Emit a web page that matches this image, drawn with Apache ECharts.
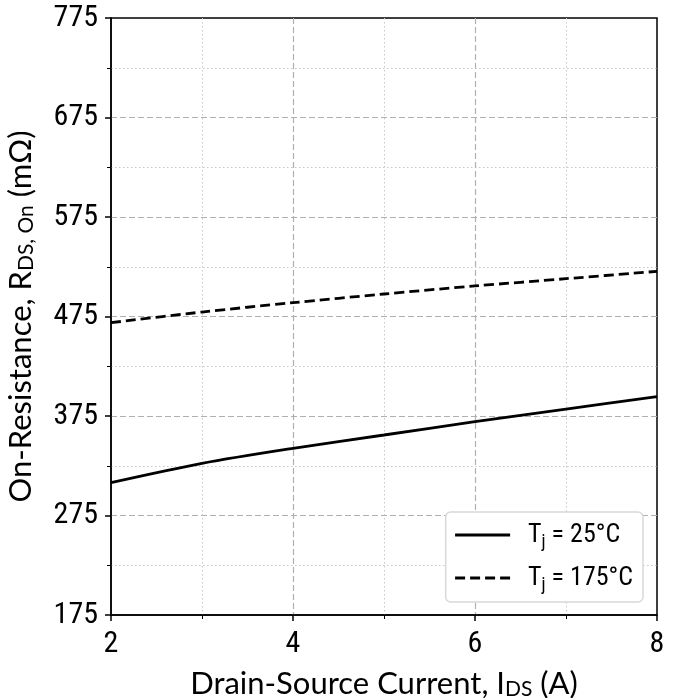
<!DOCTYPE html>
<html><head><meta charset="utf-8">
<script src="https://cdn.jsdelivr.net/npm/echarts@6/dist/echarts.min.js"></script>
<style>html,body{margin:0;padding:0;background:#fff}#c{width:677px;height:698px}</style>
</head><body><div id="c"></div>
<script>
const current = [2, 3, 4, 5, 6, 7, 8];
const r25 = [308, 327.4, 342.5, 355.9, 369.3, 382, 394.4];
const r175 = [468.8, 479.5, 488.9, 497.6, 505.7, 513, 520.4];
const yTicks = { min: 175, max: 775, step: 100 };
const xTicks = { min: 2, max: 8, step: 2 };
const seriesNames = ['25', '175'];

const tickFont = '"Roboto Condensed", "Liberation Sans Narrow", Roboto, sans-serif';
const titleFont = 'Lato, sans-serif';
const chart = echarts.init(document.getElementById('c'));
const pair = a => current.map((x, i) => [x, a[i]]);
const titleRich = {
  t: { fontFamily: titleFont, fontSize: 31, color: '#000' },
  s: { fontFamily: titleFont, fontSize: 21, color: '#000', verticalAlign: 'bottom', padding: [12, 0, 0, 0] }
};
const axisCommon = {
  axisLine: { show: true, lineStyle: { color: '#000', width: 1.5 } },
  axisTick: { show: true, inside: false, length: 6, lineStyle: { color: '#000', width: 1.5 } },
  minorTick: { show: true, splitNumber: 2, length: 4, lineStyle: { color: '#000', width: 1 } },
  splitLine: { show: true, showMinLine: false, showMaxLine: false, lineStyle: { color: '#b0b0b0', type: [6, 3], width: 1.2 } },
  minorSplitLine: { show: true, lineStyle: { color: '#c8c8c8', type: [1.5, 2.5], width: 1 } }
};
chart.setOption({
  animation: false,
  grid: { left: 111, right: 20, top: 18, bottom: 83, outerBoundsMode: 'none', containLabel: false, show: true, borderColor: '#000', borderWidth: 1.5, backgroundColor: 'transparent' },
  xAxis: Object.assign({
    type: 'value', min: xTicks.min, max: xTicks.max, interval: xTicks.step,
    name: '{t|Drain-Source Current, I}{s|DS}{t| (A)}', nameLocation: 'middle', nameGap: 52,
    nameTextStyle: { rich: titleRich },
    axisLabel: { color: '#000', fontFamily: tickFont, fontSize: 30, margin: 14 }
  }, axisCommon),
  yAxis: Object.assign({
    type: 'value', min: yTicks.min, max: yTicks.max, interval: yTicks.step,
    name: '{t|On-Resistance, R}{s|DS, On}{t| (mΩ)}', nameLocation: 'middle', nameGap: 74, nameRotate: 90,
    nameTextStyle: { rich: titleRich },
    axisLabel: { color: '#000', fontFamily: tickFont, fontSize: 30, margin: 13 }
  }, axisCommon),
  legend: {
    show: true, orient: 'vertical', right: 34, bottom: 96,
    backgroundColor: '#fff', borderColor: '#d8d8d8', borderWidth: 1.5, borderRadius: 5,
    padding: [10, 10, 8, 8], itemGap: 14, itemWidth: 55, itemHeight: 20,
    itemStyle: { opacity: 0 },
    lineStyle: { width: 2.8 },
    data: seriesNames,
    formatter: n => '{p|}{a|T}{s|j}{a| = ' + n + '°C}',
    textStyle: { color: '#000', rich: { p: { width: 13 }, a: { fontFamily: tickFont, fontSize: 26, color: '#000' }, s: { fontFamily: tickFont, fontSize: 18, color: '#000', verticalAlign: 'bottom', padding: [14, 0, 0, 0] } } }
  },
  series: [
    { name: seriesNames[0], type: 'line', data: pair(r25), smooth: 0.3, symbol: 'none', lineStyle: { color: '#000', width: 2.8, type: 'solid' }, itemStyle: { color: '#000' } },
    { name: seriesNames[1], type: 'line', data: pair(r175), smooth: 0.3, symbol: 'none', lineStyle: { color: '#000', width: 2.8, type: [10, 5] }, itemStyle: { color: '#000' } }
  ]
});
</script></body></html>
